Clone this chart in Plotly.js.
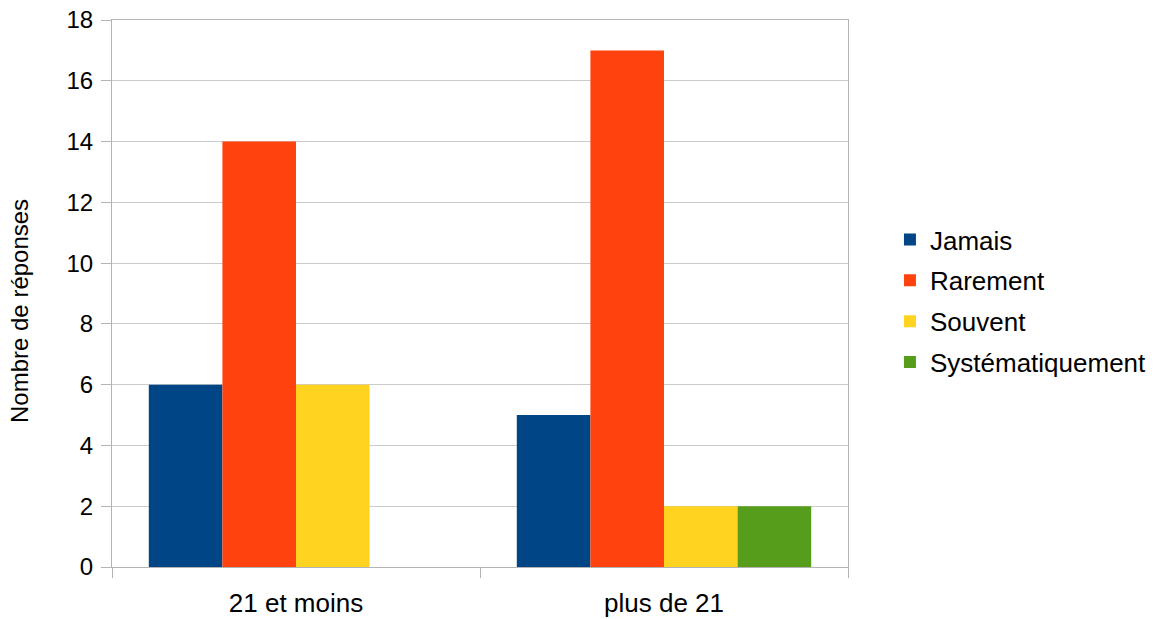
<!DOCTYPE html>
<html>
<head>
<meta charset="utf-8">
<script src="https://cdn.plot.ly/plotly-3.0.1.min.js"></script>
<style>html,body{margin:0;padding:0;background:#fff;}#chart{width:1164px;height:619px;}</style>
</head>
<body>
<div id="chart"></div>
<script>
const categories = ["21 et moins", "plus de 21"];
const seriesNames = ["Jamais", "Rarement", "Souvent", "Systématiquement"];
const jamais = [6, 5];
const rarement = [14, 17];
const souvent = [6, 2];
const systematiquement = [0, 2];
const yTicks = [0, 2, 4, 6, 8, 10, 12, 14, 16, 18];
const yTitle = "Nombre de réponses";
const colors = ["#004586", "#ff420e", "#ffd320", "#579d1c"];

const values = [jamais, rarement, souvent, systematiquement];
const traces = seriesNames.map((name, i) => ({
  type: "bar",
  name: name,
  legendgroup: "g" + i,
  x: categories,
  y: values[i],
  marker: {color: colors[i], line: {width: 0}},
  hoverinfo: "x+y+name"
}));

const font = "'Liberation Sans', Arial, sans-serif";
const layout = {
  width: 1164, height: 619,
  margin: {l: 112, r: 316, t: 20, b: 52},
  paper_bgcolor: "#fff", plot_bgcolor: "#fff",
  barmode: "group", bargap: 0.2, bargroupgap: 0,
  font: {family: font, color: "#000", size: 24},
  xaxis: {
    type: "category",
    tickson: "boundaries",
    ticks: "outside", ticklen: 10, tickcolor: "#b3b3b3", tickwidth: 1,
    showline: true, linecolor: "#b3b3b3", linewidth: 1, mirror: true,
    showgrid: false, zeroline: false,
    ticklabelstandoff: 13,
    tickfont: {size: 26, family: font, color: "#000"}
  },
  yaxis: {
    range: [0, 18],
    tickvals: yTicks,
    ticktext: yTicks.map(String),
    ticks: "outside", ticklen: 10, tickcolor: "#b3b3b3", tickwidth: 1,
    showline: true, linecolor: "#b3b3b3", linewidth: 1, mirror: true,
    showgrid: true, gridcolor: "#cccccc", gridwidth: 1,
    zeroline: false,
    ticklabelstandoff: 3,
    tickfont: {size: 24, family: font, color: "#000"}
  },
  annotations: [{
    text: yTitle, textangle: -90,
    xref: "paper", yref: "paper",
    x: (20 - 112) / 736, y: (567 - 311) / 547,
    xanchor: "center", yanchor: "middle",
    showarrow: false,
    font: {size: 24, family: font, color: "#000"}
  }],
  legend: {
    x: 1.057, xanchor: "left", y: 0.486, yanchor: "middle",
    font: {size: 26, family: font, color: "#000"},
    bgcolor: "rgba(0,0,0,0)", borderwidth: 0,
    tracegroupgap: 4
  },
  showlegend: true
};

Plotly.newPlot("chart", traces, layout, {displayModeBar: false, staticPlot: true});
</script>
</body>
</html>
